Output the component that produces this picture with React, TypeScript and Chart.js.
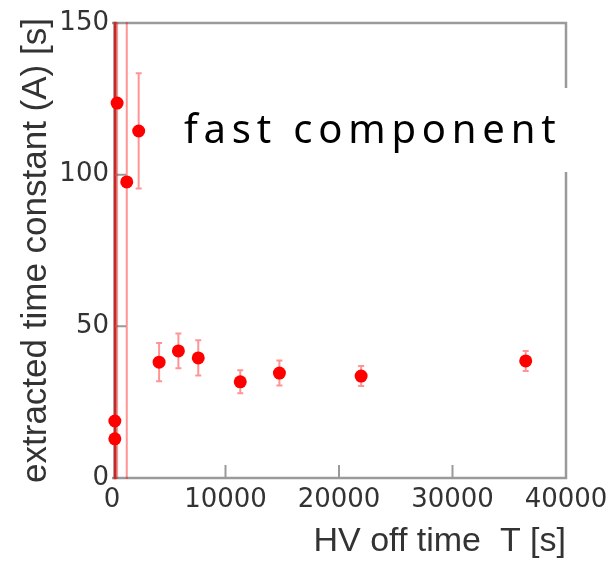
import React, { useEffect, useRef } from 'react';
import { Chart, registerables } from 'chart.js';

Chart.register(...registerables);

// HV off time T [s]
const hvOffTime = [450, 250, 250, 1300, 2350, 4150, 5850, 7600, 11300, 14750, 21950, 36450];
// extracted time constant (A) [s]
const timeConstant = [123.6, 18.8, 12.9, 97.6, 114.4, 38.2, 41.9, 39.6, 31.7, 34.6, 33.6, 38.6];
// symmetric error on the time constant [s]
const timeConstantErr = [400, 400, 400, 400, 19, 6.3, 5.7, 5.8, 3.8, 4.1, 3.3, 3.3];

const xTickMin = 0;
const xTickMax = 40000;
const xTickStep = 10000;
const yTickMin = 0;
const yTickMax = 150;
const yTickStep = 50;

const xTitle = 'HV off time  T [s]';
const yTitle = 'extracted time constant (A) [s]';
const annotationText = 'fast component';

const tickFont = { family: 'DejaVu Sans', size: 26 };
const titleFontX = { family: 'Liberation Sans', size: 34 };
const titleFontY = { family: 'Liberation Sans', size: 35 };
const textColor = '#333333';
const frameColor = '#9a9a9a';

const frameAndErrorBars = {
  id: 'frameAndErrorBars',
  beforeDatasetsDraw(chart: any) {
    const { ctx, chartArea, scales } = chart;
    const x = scales.x;
    const y = scales.y;
    const { left, right, top, bottom } = chartArea;
    ctx.save();
    // frame (top, right, bottom)
    ctx.strokeStyle = frameColor;
    ctx.lineWidth = 2.5;
    ctx.beginPath();
    ctx.moveTo(left, top);
    ctx.lineTo(right, top);
    ctx.lineTo(right, bottom);
    ctx.lineTo(left, bottom);
    ctx.stroke();
    // left axis line
    ctx.strokeStyle = '#6a6a6a';
    ctx.lineWidth = 3;
    ctx.beginPath();
    ctx.moveTo(left + 3, top - 1.25);
    ctx.lineTo(left + 3, bottom + 1.25);
    ctx.stroke();
    // inward ticks
    ctx.strokeStyle = frameColor;
    ctx.lineWidth = 2;
    ctx.beginPath();
    y.ticks.forEach((t: any) => {
      if (t.value > y.min && t.value < y.max) {
        const py = y.getPixelForValue(t.value);
        ctx.moveTo(left + 3, py);
        ctx.lineTo(left + 14, py);
      }
    });
    x.ticks.forEach((t: any) => {
      if (t.value > x.min && t.value < x.max) {
        const px = x.getPixelForValue(t.value);
        ctx.moveTo(px, bottom);
        ctx.lineTo(px, bottom - 13);
      }
    });
    ctx.stroke();
    // error bars
    ctx.beginPath();
    ctx.rect(left - 2, top - 1, right - left + 4, bottom - top + 2);
    ctx.clip();
    ctx.strokeStyle = 'rgba(255,0,0,0.42)';
    ctx.lineWidth = 2;
    for (let i = 0; i < hvOffTime.length; i++) {
      const px = x.getPixelForValue(hvOffTime[i]);
      const pTop = y.getPixelForValue(timeConstant[i] + timeConstantErr[i]);
      const pBot = y.getPixelForValue(timeConstant[i] - timeConstantErr[i]);
      ctx.beginPath();
      ctx.moveTo(px, pTop);
      ctx.lineTo(px, pBot);
      ctx.moveTo(px - 3, pTop);
      ctx.lineTo(px + 3, pTop);
      ctx.moveTo(px - 3, pBot);
      ctx.lineTo(px + 3, pBot);
      ctx.stroke();
    }
    ctx.restore();
  },
  afterDraw(chart: any) {
    const { ctx } = chart;
    ctx.save();
    ctx.fillStyle = '#ffffff';
    ctx.fillRect(172, 88, 404, 84);
    ctx.fillStyle = '#000000';
    ctx.font = '40px "Noto Sans"';
    (ctx as any).letterSpacing = '5.8px';
    ctx.textAlign = 'left';
    ctx.textBaseline = 'alphabetic';
    ctx.fillText(annotationText, 184, 143);
    ctx.restore();
  },
};

export default function App() {
  const canvasRef = useRef<HTMLCanvasElement | null>(null);

  useEffect(() => {
    const canvas = canvasRef.current;
    if (!canvas) return;
    const points = hvOffTime.map((t, i) => ({ x: t, y: timeConstant[i] }));
    const chart = new Chart(canvas, {
      type: 'scatter',
      data: {
        datasets: [
          {
            data: points,
            backgroundColor: '#ff0000',
            borderWidth: 0,
            pointRadius: 6.5,
            clip: false as any,
          },
        ],
      },
      options: {
        animation: false,
        responsive: false,
        devicePixelRatio: 1,
        layout: { padding: { top: 23, right: 43, left: 0, bottom: 0 } },
        plugins: { legend: { display: false }, tooltip: { enabled: false } },
        scales: {
          x: {
            type: 'linear',
            min: xTickMin,
            max: xTickMax,
            grid: { display: false, drawTicks: false },
            border: { display: false },
            ticks: {
              stepSize: xTickStep,
              font: tickFont,
              color: textColor,
              padding: 7,
              maxRotation: 0,
              callback: (v: any) => String(v),
            },
            title: {
              display: true,
              text: xTitle,
              align: 'end',
              font: titleFontX,
              color: textColor,
              padding: { top: 2, bottom: 0 },
            },
            afterFit: (s: any) => {
              s.height = 84;
              s.paddingRight = 0;
              s.paddingLeft = 0;
            },
          },
          y: {
            type: 'linear',
            min: yTickMin,
            max: yTickMax,
            grid: { display: false, drawTicks: false },
            border: { display: false },
            ticks: {
              stepSize: yTickStep,
              font: tickFont,
              color: textColor,
              padding: 3,
              callback: (v: any) => String(v),
            },
            title: {
              display: true,
              text: yTitle,
              font: titleFontY,
              color: textColor,
              padding: { top: 15, bottom: 0 },
            },
            afterFit: (s: any) => {
              s.width = 112;
              s.paddingTop = 0;
              s.paddingBottom = 0;
            },
          },
        },
      },
      plugins: [frameAndErrorBars],
    });
    return () => chart.destroy();
  }, []);

  return (
    <div style={{ position: 'fixed', left: 0, top: 0, width: 609, height: 562, background: '#fff' }}>
      <canvas ref={canvasRef} width={609} height={562} style={{ width: 609, height: 562 }} />
    </div>
  );
}
